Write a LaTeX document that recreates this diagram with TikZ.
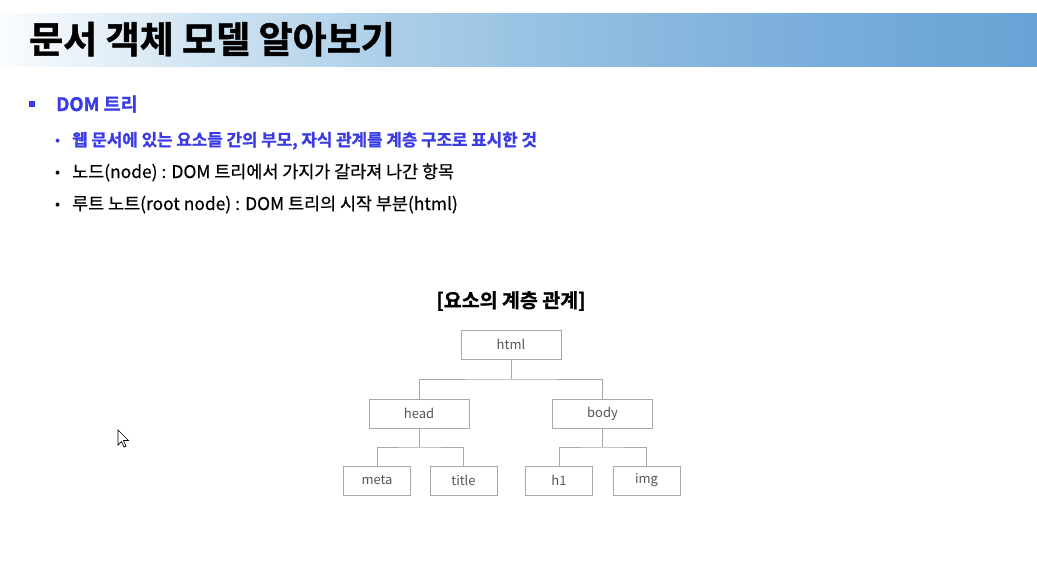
\documentclass[tikz,border=0pt]{standalone}
\usepackage{fontspec}
\setmainfont{Noto Sans CJK KR}
\newfontfamily\krmed[FakeBold=0.5]{Noto Sans CJK KR}
\newfontfamily\krheavy[FakeBold=1.2]{Noto Sans CJK KR Bold}
\definecolor{bluetxt}{HTML}{3B3BE6}
\definecolor{boxline}{HTML}{A8A8A8}
\definecolor{boxtxt}{HTML}{555555}
\definecolor{sA}{HTML}{FAFCFE}
\definecolor{sB}{HTML}{D0E4F2}
\definecolor{sC}{HTML}{AACDE8}
\definecolor{sD}{HTML}{8FBDE0}
\definecolor{sE}{HTML}{7BAEDC}
\definecolor{sF}{HTML}{66A3D4}
\begin{document}
\begin{tikzpicture}[x=1pt,y=-1pt,
  treebox/.style={draw=boxline, line width=0.9pt, minimum height=29pt, inner sep=0pt, font=\fontsize{13}{15}\selectfont, text=boxtxt},
  wide/.style={treebox, minimum width=100pt},
  narrow/.style={treebox, minimum width=67pt},
  conn/.style={draw=boxline, line width=0.9pt},
  bullettxt/.style={anchor=base west, inner sep=0pt, font=\krmed\fontsize{17.4}{20}\selectfont}
]
\useasboundingbox (0,0) rectangle (1037,565);
% banner
\shade[left color=sA, right color=sB, draw=none] (0,13) rectangle (200.5,66);
\shade[left color=sB, right color=sC, draw=none] (200,13) rectangle (400.5,66);
\shade[left color=sC, right color=sD, draw=none] (400,13) rectangle (600.5,66);
\shade[left color=sD, right color=sE, draw=none] (600,13) rectangle (800.5,66);
\shade[left color=sE, right color=sF, draw=none] (800,13) rectangle (1037,66);
\node[anchor=base west, inner sep=0pt, font=\krheavy\fontsize{37}{42}\selectfont] (title) at (29,53) {문서 객체 모델 알아보기};
% bullets
\node[fill=bluetxt, minimum size=6pt, inner sep=0pt] (b0) at (32,104) {};
\node[anchor=base west, inner sep=0pt, text=bluetxt, font=\krheavy\fontsize{18.5}{20}\selectfont] (dom) at (56,111) {DOM 트리};
\node[anchor=base west, inner sep=0pt, text=bluetxt, font=\fontsize{15}{18}\selectfont] (s1b) at (55,145) {•};
\node[bullettxt, text=bluetxt, font=\krheavy\fontsize{16.8}{18}\selectfont] (s1) at (72,146) {웹 문서에 있는 요소들 간의 부모, 자식 관계를 계층 구조로 표시한 것};
\node[anchor=base west, inner sep=0pt, font=\fontsize{15}{18}\selectfont] (s2b) at (55,177) {•};
\node[bullettxt] (s2) at (72,178) {노드(node) : DOM 트리에서 가지가 갈라져 나간 항목};
\node[anchor=base west, inner sep=0pt, font=\fontsize{15}{18}\selectfont] (s3b) at (55,209) {•};
\node[bullettxt] (s3) at (72,210) {루트 노트(root node) : DOM 트리의 시작 부분(html)};
% diagram title
\node[font=\krheavy\fontsize{19.5}{22}\selectfont, inner sep=0pt] (dtitle) at (511,301) {[요소의 계층 관계]};
% tree
\node[wide] (html) at (511,344.5) {html};
\node[wide] (head) at (419,413.5) {head};
\node[wide] (body) at (602.5,413.5) {body};
\node[narrow] (meta) at (377,480.5) {meta};
\node[narrow] (ttl) at (463.5,480.5) {title};
\node[narrow] (h1) at (559,480.5) {h1};
\node[narrow] (img) at (646.5,480.5) {img};
\coordinate (j1) at (511,379);
\coordinate (j2) at (419,447);
\coordinate (j3) at (602.5,447);
\draw[conn] (html.south) -- (j1);
\draw[conn] (head.north) |- (j1) -| (body.north);
\draw[conn] (head.south) -- (j2);
\draw[conn] (meta.north) |- (j2) -| (ttl.north);
\draw[conn] (body.south) -- (j3);
\draw[conn] (h1.north) |- (j3) -| (img.north);
% mouse cursor
\draw[fill=white, line width=0.7pt] (118,430) -- (118,445) -- (121.5,441.5) -- (124,447) -- (126,446) -- (123.5,440.5) -- (128.5,440.5) -- cycle;
\end{tikzpicture}
\end{document}
